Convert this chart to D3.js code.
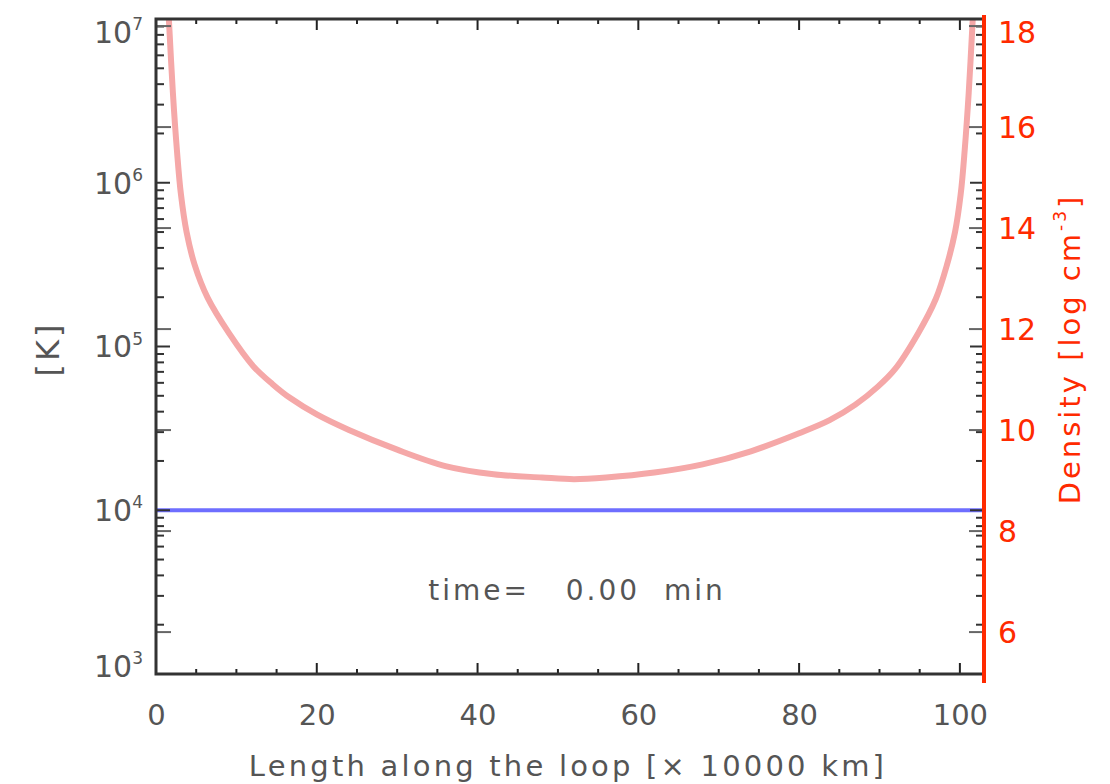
<!DOCTYPE html>
<html>
<head>
<meta charset="utf-8">
<script src="https://cdn.jsdelivr.net/npm/d3@7"></script>
<style>
  body { margin: 0; background: #fff; }
  svg text { font-family: "DejaVu Sans", sans-serif; }
</style>
</head>
<body>
<div id="chart"></div>
<script>
// loop position [x 10000 km] and temperature (log10 K)
const loopPos = [1.6, 2.1, 2.6, 3.1, 3.8, 4.8, 6.4, 9.1, 12.1, 14.5, 16.7, 20, 24, 30, 36, 42, 48, 52,
  56, 62, 68, 74, 80, 83.8, 87, 89.8, 91.9, 94.8, 97.0, 98.4, 99.4, 100.1, 100.6, 101.1, 101.6];
const logTemp = [7.0, 6.55, 6.2, 5.93, 5.7, 5.5, 5.3, 5.08, 4.88, 4.77, 4.685, 4.585, 4.49, 4.37, 4.27, 4.22, 4.2, 4.19,
  4.2, 4.23, 4.28, 4.36, 4.47, 4.55, 4.645, 4.755, 4.86, 5.08, 5.29, 5.5, 5.7, 5.93, 6.2, 6.55, 7.0];
// flat blue line
const flatPos = [0, 103];
const flatTemp = [1e4, 1e4];

const xTicks = [0, 20, 40, 60, 80, 100];
const tempDecades = [3, 4, 5, 6, 7];
const densTicks = [6, 8, 10, 12, 14, 16, 18];
const timeLabel = 'time=   0.00  min';

const W = 1110, H = 784;
const pLeft = 156, pRight = 984, pTop = 19, pBottom = 674;
const grey = '#555', red = '#ff2a00';

const svg = d3.select('#chart').append('svg').attr('width', W).attr('height', H);

const x = d3.scaleLinear().domain([0, 103]).range([pLeft, pRight]);
const y = d3.scaleLog().domain([1e3, 1e7]).range([pBottom, pTop]);
const yd = d3.scaleLinear().domain([5.17, 18.14]).range([pBottom, pTop]);

svg.append('clipPath').attr('id', 'plot')
  .append('rect').attr('x', pLeft).attr('y', pTop).attr('width', pRight - pLeft).attr('height', pBottom - pTop);

// curves
const line = d3.line().x(d => x(d[0])).y(d => y(d[1]));
svg.append('path')
  .datum(flatPos.map((p, i) => [p, flatTemp[i]]))
  .attr('d', line).attr('fill', 'none').attr('stroke', '#6e6eff').attr('stroke-width', 4);
svg.append('path')
  .datum(loopPos.map((p, i) => [p, Math.pow(10, logTemp[i])]))
  .attr('clip-path', 'url(#plot)')
  .attr('d', line.curve(d3.curveCatmullRom.alpha(0.5)))
  .attr('fill', 'none').attr('stroke', '#f5a8a8').attr('stroke-width', 6);

// x axis ticks (bottom and top) + labels
const xMinor = d3.range(0, 101, 5);
const tk = svg.append('g').attr('stroke', '#222').attr('stroke-width', 2);
xMinor.forEach(v => {
  const len = v % 20 === 0 ? 11 : 5;
  tk.append('line').attr('x1', x(v)).attr('x2', x(v)).attr('y1', pBottom).attr('y2', pBottom - len);
  tk.append('line').attr('x1', x(v)).attr('x2', x(v)).attr('y1', pTop).attr('y2', pTop + len);
});
svg.append('g').attr('transform', `translate(0,${pBottom})`)
  .call(d3.axisBottom(x).tickValues(xTicks).tickSize(0).tickPadding(34).tickFormat(d3.format('d')))
  .call(g => g.select('.domain').remove())
  .selectAll('text').attr('fill', grey).attr('font-size', 29).attr('dy', '0.6em');

// y ticks on both sides: log minor/major and density majors
const logTicks = y.ticks();
const yt = svg.append('g').attr('stroke', '#333').attr('stroke-width', 2);
logTicks.forEach(v => {
  const major = Math.abs(Math.log10(v) - Math.round(Math.log10(v))) < 1e-9;
  const len = major ? 14 : 8;
  yt.append('line').attr('x1', pLeft).attr('x2', pLeft + len).attr('y1', y(v)).attr('y2', y(v));
  yt.append('line').attr('x1', pRight).attr('x2', pRight - len).attr('y1', y(v)).attr('y2', y(v));
});
densTicks.forEach(v => {
  yt.append('line').attr('stroke', '#666').attr('x1', pLeft).attr('x2', pLeft + 15).attr('y1', yd(v)).attr('y2', yd(v));
  yt.append('line').attr('stroke', '#666').attr('x1', pRight).attr('x2', pRight - 15).attr('y1', yd(v)).attr('y2', yd(v));
});

// frame
svg.append('rect').attr('x', pLeft).attr('y', pTop).attr('width', pRight - pLeft).attr('height', pBottom - pTop)
  .attr('fill', 'none').attr('stroke', '#333').attr('stroke-width', 3);

// left labels 10^n
tempDecades.forEach(n => {
  const ty = Math.min(Math.max(y(Math.pow(10, n)), 32), 666);
  const t = svg.append('text').attr('x', 143).attr('y', ty).attr('dy', '0.36em')
    .attr('text-anchor', 'end').attr('fill', grey).attr('font-size', 30);
  t.append('tspan').text('10');
  t.append('tspan').attr('font-size', 17).attr('dy', '-0.75em').text(n);
});

// right red density axis
svg.append('line').attr('x1', pRight).attr('x2', pRight).attr('y1', 15).attr('y2', 683)
  .attr('stroke', red).attr('stroke-width', 4);
densTicks.forEach(v => {
  svg.append('text').attr('x', 998).attr('y', Math.max(yd(v), 32)).attr('dy', '0.36em')
    .attr('fill', red).attr('font-size', 30).text(v);
});

// axis titles
svg.append('text').attr('transform', 'translate(59,349) rotate(-90)')
  .attr('text-anchor', 'middle').attr('fill', grey).attr('font-size', 32)
  .attr('letter-spacing', 3).text('[K]');
const dl = svg.append('text').attr('transform', 'translate(1080,349) rotate(-90)')
  .attr('text-anchor', 'middle').attr('fill', red).attr('font-size', 29).attr('letter-spacing', 3);
dl.append('tspan').text('Density [log cm');
dl.append('tspan').attr('font-size', 17).attr('dy', '-0.8em').text('-3');
dl.append('tspan').attr('dy', '0.48em').text(']');

svg.append('text').attr('x', 568).attr('y', 776).attr('text-anchor', 'middle')
  .attr('fill', grey).attr('font-size', 29).attr('letter-spacing', 3.2)
  .text('Length along the loop [× 10000 km]');

svg.append('text').attr('x', 577).attr('y', 600).attr('text-anchor', 'middle')
  .attr('fill', grey).attr('font-size', 28).attr('letter-spacing', 3)
  .style('white-space', 'pre').text(timeLabel);
</script>
</body>
</html>
